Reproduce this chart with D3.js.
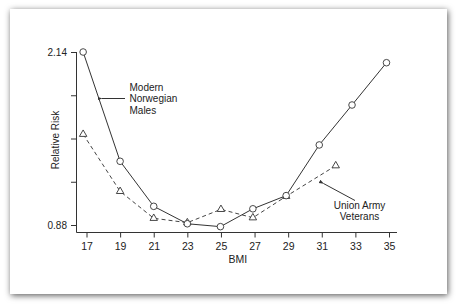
<!DOCTYPE html>
<html>
<head>
<meta charset="utf-8">
<script src="https://cdn.jsdelivr.net/npm/d3@7"></script>
<style>
  body { margin: 0; background: #fff; }
  text { font-family: "Liberation Sans", Arial, sans-serif; fill: #222; }
</style>
</head>
<body>
<script>
// BMI group means (x) and relative risk (y)
const norwegianBmi = [16.8, 19, 21, 23, 24.97, 26.9, 28.88, 30.85, 32.8, 34.85];
const norwegianRisk = [2.14, 1.344, 1.016, 0.889, 0.868, 0.998, 1.094, 1.463, 1.754, 2.062];
const unionBmi = [16.8, 19, 21, 23, 25, 26.9, 28.88, 31.83];
const unionRisk = [1.541, 1.125, 0.929, 0.897, 0.994, 0.933, 1.089, 1.312];
const xTicks = [17, 19, 21, 23, 25, 27, 29, 31, 33, 35];
const yTicks = [0.88, 1.195, 1.51, 1.825, 2.14];
const yLabels = ["0.88", "", "", "", "2.14"];

const W = 458, H = 304;
const svg = d3.select("body").append("svg")
    .attr("width", W)
    .attr("height", H);

// card with drop shadow
const defs = svg.append("defs");
const f = defs.append("filter").attr("id", "shadow")
    .attr("x", "-10%").attr("y", "-10%").attr("width", "120%").attr("height", "120%");
f.append("feDropShadow")
    .attr("dx", 1).attr("dy", 1.5)
    .attr("stdDeviation", 3)
    .attr("flood-color", "#000")
    .attr("flood-opacity", 0.65);

svg.append("rect")
    .attr("x", 10).attr("y", 9)
    .attr("width", 437).attr("height", 285)
    .attr("fill", "#fff")
    .attr("filter", "url(#shadow)");

let x = d3.scaleLinear().domain([17, 35]).range([86.5, 389]);
let y = d3.scaleLinear().domain([0.88, 2.14]).range([225, 52]);

const axisX = 76.5, axisY = 232.5;
const ink = "#333";

// L-shaped axis lines
svg.append("line")
    .attr("x1", axisX).attr("x2", axisX)
    .attr("y1", y(2.14)).attr("y2", axisY)
    .attr("stroke", ink);
svg.append("line")
    .attr("x1", axisX).attr("x2", x(35) + 8)
    .attr("y1", axisY).attr("y2", axisY)
    .attr("stroke", ink);

let gx = svg.append("g")
    .attr("transform", "translate(0," + axisY + ")")
    .call(d3.axisBottom(x).tickValues(xTicks).tickSize(5).tickPadding(5).tickFormat(d3.format("d")));
gx.select(".domain").remove();
gx.selectAll("line").attr("stroke", ink);
gx.selectAll("text").attr("font-size", "10.5px").attr("fill", "#222")
    .style("font-family", "'Liberation Sans', Arial, sans-serif");

let gy = svg.append("g")
    .attr("transform", "translate(" + axisX + ",0)")
    .call(d3.axisLeft(y).tickValues(yTicks).tickSize(5.5).tickPadding(4)
        .tickFormat((d, i) => yLabels[i]));
gy.select(".domain").remove();
gy.selectAll("line").attr("stroke", ink);
gy.selectAll("text").attr("font-size", "10px").attr("fill", "#222")
    .style("font-family", "'Liberation Sans', Arial, sans-serif");

// axis titles
svg.append("text")
    .attr("x", x(26)).attr("y", 263)
    .attr("text-anchor", "middle")
    .attr("font-size", "10.5px")
    .text("BMI");
svg.append("text")
    .attr("transform", "translate(58.5,140) rotate(-90)")
    .attr("text-anchor", "middle")
    .attr("font-size", "10px")
    .text("Relative Risk");

// series
const norwegian = norwegianBmi.map((b, i) => ({ x: b, y: norwegianRisk[i] }));
const union = unionBmi.map((b, i) => ({ x: b, y: unionRisk[i] }));

let line = d3.line().x(d => x(d.x)).y(d => y(d.y));

svg.append("path")
    .datum(union)
    .attr("d", line)
    .attr("fill", "none")
    .attr("stroke", "#444")
    .attr("stroke-width", 1)
    .attr("stroke-dasharray", "4,3");

svg.append("path")
    .datum(norwegian)
    .attr("d", line)
    .attr("fill", "none")
    .attr("stroke", "#333")
    .attr("stroke-width", 1);

svg.selectAll(".tri")
    .data(union)
    .enter()
    .append("path")
    .attr("class", "tri")
    .attr("transform", d => "translate(" + x(d.x) + "," + y(d.y) + ")")
    .attr("d", d3.symbol().type(d3.symbolTriangle).size(24))
    .attr("fill", "#fff")
    .attr("stroke", "#333")
    .attr("stroke-width", 0.9);

svg.selectAll(".circ")
    .data(norwegian)
    .enter()
    .append("circle")
    .attr("class", "circ")
    .attr("cx", d => x(d.x))
    .attr("cy", d => y(d.y))
    .attr("r", 3.3)
    .attr("fill", "#fff")
    .attr("stroke", "#333")
    .attr("stroke-width", 0.9);

// annotations
defs.append("marker")
    .attr("id", "arrow")
    .attr("viewBox", "0 0 10 10")
    .attr("refX", 1).attr("refY", 5)
    .attr("markerWidth", 5).attr("markerHeight", 5)
    .attr("orient", "auto-start-reverse")
    .append("path")
    .attr("d", "M0,5 L10,1.5 L10,8.5 Z")
    .attr("fill", "#333");

svg.append("line")
    .attr("x1", 102).attr("y1", 98.5)
    .attr("x2", 125).attr("y2", 98.5)
    .attr("stroke", "#333")
    .attr("marker-start", "url(#arrow)");

let t1 = svg.append("text")
    .attr("x", 129.5).attr("y", 90.5)
    .attr("font-size", "10px");
["Modern", "Norwegian", "Males"].forEach((s, i) => {
    t1.append("tspan").attr("x", 129.5).attr("dy", i ? 11.8 : 0).text(s);
});

svg.append("line")
    .attr("x1", 323.5).attr("y1", 183.5)
    .attr("x2", 355).attr("y2", 200.5)
    .attr("stroke", "#333")
    .attr("marker-start", "url(#arrow)");

let t2 = svg.append("text")
    .attr("x", 359.5).attr("y", 209)
    .attr("text-anchor", "middle")
    .attr("font-size", "10px");
["Union Army", "Veterans"].forEach((s, i) => {
    t2.append("tspan").attr("x", 359.5).attr("dy", i ? 11.2 : 0).text(s);
});
</script>
</body>
</html>
